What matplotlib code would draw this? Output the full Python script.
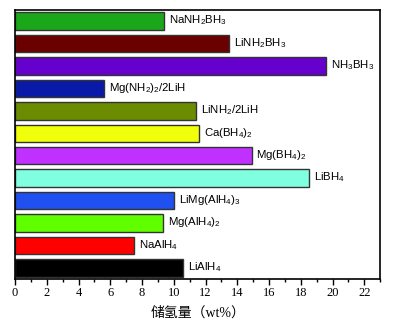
import matplotlib
matplotlib.use("Agg")
import matplotlib.pyplot as plt
from matplotlib.ticker import MultipleLocator

plt.rcParams['mathtext.fontset'] = 'custom'
plt.rcParams['mathtext.rm'] = 'Liberation Sans'
plt.rcParams['mathtext.it'] = 'Liberation Sans'
plt.rcParams['mathtext.default'] = 'regular'

# Top to bottom order
materials = [r'NaNH$_2$BH$_3$', r'LiNH$_2$BH$_3$', r'NH$_3$BH$_3$',
             r'Mg(NH$_2$)$_2$/2LiH', r'LiNH$_2$/2LiH', r'Ca(BH$_4$)$_2$',
             r'Mg(BH$_4$)$_2$', r'LiBH$_4$', r'LiMg(AlH$_4$)$_3$',
             r'Mg(AlH$_4$)$_2$', r'NaAlH$_4$', r'LiAlH$_4$']
capacity = [9.4, 13.5, 19.6, 5.6, 11.4, 11.6, 14.9, 18.5, 10.0, 9.3, 7.5, 10.6]
colors = ['#1aa81a', '#6b0000', '#6600cc', '#0a1aa8', '#6b8c00', '#f0ff0a',
          '#c030ff', '#7fffe0', '#2050f0', '#60ff00', '#ff0000', '#000000']
xticks = [0, 2, 4, 6, 8, 10, 12, 14, 16, 18, 20, 22]
xlabel = '储氢量（wt%）'

fig = plt.figure(figsize=(4.07, 3.33), dpi=100)
ax = fig.add_axes([0.037, 0.162, 0.897, 0.808])

n = len(materials)
ypos = list(range(n - 1, -1, -1))
ax.barh(ypos, capacity, height=0.78, color=colors, edgecolor='#333333', linewidth=1.0)
for y, v, lab in zip(ypos, capacity, materials):
    ax.annotate(lab, (v, y), xytext=(3.5, 0.5), textcoords='offset points',
                ha='left', va='center', fontsize=8.2, family='Liberation Sans')

ax.set_xlim(0, 23)
ax.set_ylim(-0.5, n - 0.5)
ax.set_yticks([])
ax.set_xticks(xticks)
ax.xaxis.set_minor_locator(MultipleLocator(1))
ax.tick_params(axis='x', which='major', direction='out', length=4, width=1.0, pad=2)
ax.tick_params(axis='x', which='minor', direction='out', length=2, width=1.0)
for lbl in ax.get_xticklabels():
    lbl.set_family('Liberation Serif')
    lbl.set_fontsize(9)
for s in ax.spines.values():
    s.set_linewidth(1.2)
ax.set_xlabel(xlabel, fontsize=10, family=['Liberation Serif', 'Noto Sans CJK SC'], labelpad=5)

fig.savefig('out.png', dpi=100)
